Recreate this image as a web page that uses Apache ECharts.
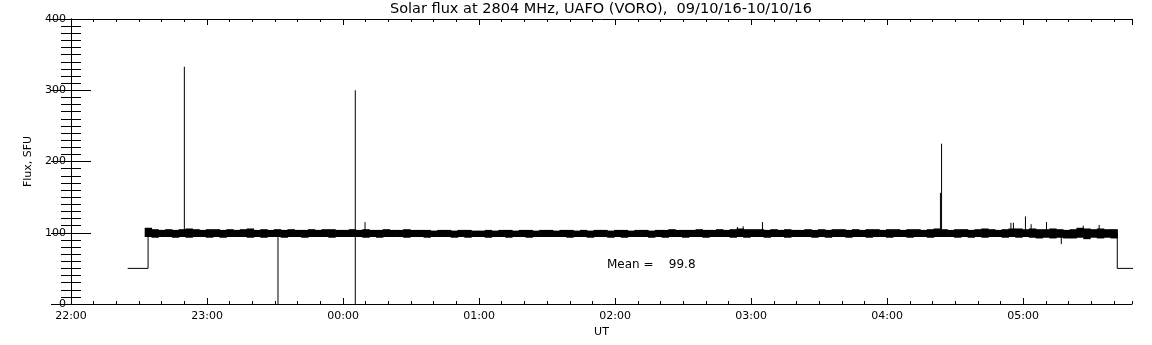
<!DOCTYPE html>
<html>
<head>
<meta charset="utf-8">
<script src="https://cdn.jsdelivr.net/npm/echarts@6/dist/echarts.min.js"></script>
<style>
  html, body { margin: 0; padding: 0; background: #fff; }
  #chart { width: 1152px; height: 345px; }
</style>
</head>
<body>
<div id="chart"></div>
<script>
// time is in minutes after 22:00 UT (09/10/16)
var bandStart = 34;   // first envelope bin
var bandStep = 3;     // minutes per envelope bin

// upper and lower edge of the noisy trace, per 3-minute bin
var bandHigh = [
  107,105,104,105,104,105,106,105,104,105,
  105,104,105,104,105,106,104,105,104,105,
  104,105,104,104,105,104,105,105,104,104,
  105,104,105,104,104,105,104,104,105,104,
  104,104,103,104,104,103,104,104,103,103,
  104,103,104,104,103,104,104,103,104,104,
  103,104,104,103,104,103,104,104,103,104,
  104,103,104,104,103,104,104,105,104,104,
  104,105,104,104,105,104,105,106,105,105,
  105,104,105,104,105,104,104,105,104,105,
  104,105,105,104,105,104,105,105,104,105,
  105,104,105,105,104,105,106,105,104,105,
  105,104,105,106,105,104,105,106,106,105,
  106,105,105,106,105,104,105,107,106,105,
  106,105,105
];
var bandLow = [
  94,93,94,94,93,94,93,94,94,93,
  94,93,94,94,94,93,94,93,94,94,
  93,94,94,93,94,94,94,93,94,94,
  94,94,93,94,93,94,94,94,93,94,
  94,93,94,94,94,93,94,93,94,94,
  93,94,94,93,94,94,93,94,94,94,
  94,94,93,94,94,93,94,94,93,94,
  93,94,94,94,93,94,93,94,94,93,
  94,94,93,94,94,94,93,94,93,94,
  94,93,94,94,93,94,94,94,93,94,
  93,94,94,93,94,94,93,94,94,93,
  94,94,93,94,94,93,94,94,94,93,
  94,93,94,93,94,94,93,94,93,94,
  93,92,93,92,93,92,92,93,91,93,
  92,93,92
];

// isolated spikes: time, bottom and top of each vertical stroke
var spikeTimes   = [50, 91.3, 125.4, 129.7, 294, 296.5, 305, 383.5, 384, 414.6, 415.7, 421, 423.5, 430.3, 436.8, 446.5, 453.5];
var spikeBottoms = [100, 0,   0,     100,   100, 100,   100, 100,   100, 100,   100,   100, 100,   100,   84,    100,   100];
var spikeTops    = [333, 100, 300,   115,   108, 109,   115, 156,   225, 114,   114,   123, 112,   115,   100,   110,   111];

// start and end of the record (calibration level 50)
var startTimes  = [25, 34, 34];
var startValues = [50, 50, 100];
var endTimes    = [461.5, 461.5, 470];
var endValues   = [100, 50, 50];

var xMax = 468;
var titleText = 'Solar flux at 2804 MHz, UAFO (VORO),  09/10/16-10/10/16';
var meanText = 'Mean =    99.8';

var font = 'DejaVu Sans';

function pad(n) { return (n < 10 ? '0' : '') + n; }
function fmtTime(v) {
  var h = (22 + Math.floor(v / 60)) % 24;
  var m = Math.round(v % 60);
  return pad(h) + ':' + pad(m);
}

var bandData = [];
for (var i = 0; i < bandHigh.length; i++) {
  bandData.push([bandStart + i * bandStep, bandLow[i], bandHigh[i]]);
}

var spikeData = [];
for (var j = 0; j < spikeTimes.length; j++) {
  spikeData.push([spikeTimes[j], spikeBottoms[j]]);
  spikeData.push([spikeTimes[j], spikeTops[j]]);
  spikeData.push(null);
}

var edgeData = [];
for (var k = 0; k < startTimes.length; k++) edgeData.push([startTimes[k], startValues[k]]);
edgeData.push(null);
for (var k = 0; k < endTimes.length; k++) edgeData.push([endTimes[k], endValues[k]]);

var blackLine = { show: true, lineStyle: { color: '#000', width: 1 } };

function xAx(pos, interval, len, labels) {
  return {
    type: 'value', position: pos, min: 0, max: xMax, interval: interval,
    axisLine: interval === 60 ? blackLine : { show: false },
    axisTick: { show: true, inside: true, length: len, lineStyle: { color: '#000', width: 1 } },
    axisLabel: labels ? {
      show: true, formatter: fmtTime, color: '#000', fontFamily: font, fontSize: 11,
      margin: 7, showMaxLabel: false
    } : { show: false },
    splitLine: { show: false },
    name: labels ? 'UT' : '', nameLocation: 'middle', nameGap: 21,
    nameTextStyle: { color: '#000', fontFamily: font, fontSize: 11 }
  };
}

function yAx(pos, labels) {
  return {
    type: 'value', position: pos, min: 0, max: 400, interval: 100,
    axisLine: blackLine,
    axisTick: { show: true, inside: true, length: 20, lineStyle: { color: '#000', width: 1 } },
    minorTick: { show: true, splitNumber: 10, length: 10, lineStyle: { color: '#000', width: 1 } },
    axisLabel: labels ? { show: true, color: '#000', fontFamily: font, fontSize: 11, margin: 5 } : { show: false },
    splitLine: { show: false },
    name: labels ? 'Flux, SFU' : '', nameLocation: 'middle', nameGap: 35, nameRotate: 90,
    nameTextStyle: { color: '#000', fontFamily: font, fontSize: 11 }
  };
}

var chart = echarts.init(document.getElementById('chart'), null, { renderer: 'canvas' });
chart.setOption({
  animation: false,
  backgroundColor: '#fff',
  grid: { left: 71, right: 20, top: 19, bottom: 41 },
  xAxis: [
    xAx('bottom', 60, 6, true),
    xAx('bottom', 10, 3, false),
    xAx('top', 60, 6, false),
    xAx('top', 10, 3, false)
  ],
  yAxis: [yAx('left', true), yAx('right', false)],
  graphic: [
    {
      type: 'text', x: 601, y: 9,
      style: { text: titleText, fill: '#000', font: '14.5px "DejaVu Sans"', align: 'center', verticalAlign: 'middle' }
    },
    {
      type: 'text', left: 607, top: 259,
      style: { text: meanText, fill: '#000', font: '12px "DejaVu Sans"' }
    }
  ],
  series: [
    {
      type: 'custom', data: bandData, silent: true,
      encode: { x: 0, y: [1, 2] },
      renderItem: function (params, api) {
        var t = api.value(0);
        var p1 = api.coord([t - bandStep / 2, api.value(2)]);
        var p2 = api.coord([t + bandStep / 2, api.value(1)]);
        return {
          type: 'rect',
          shape: { x: p1[0], y: p1[1], width: p2[0] - p1[0] + 0.6, height: p2[1] - p1[1] },
          style: { fill: '#000' }
        };
      }
    },
    {
      type: 'line', data: spikeData, symbol: 'none', silent: true, connectNulls: false,
      lineStyle: { color: '#000', width: 1 }
    },
    {
      type: 'line', data: edgeData, symbol: 'none', silent: true, connectNulls: false,
      lineStyle: { color: '#000', width: 1 }
    }
  ]
});
</script>
</body>
</html>
